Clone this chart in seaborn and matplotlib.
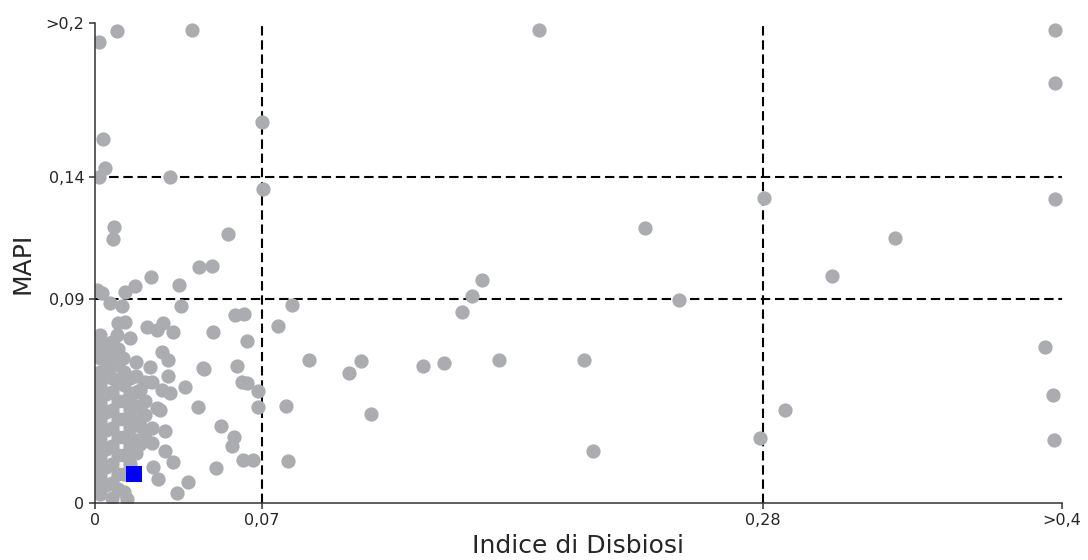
import numpy as np
import pandas as pd
import matplotlib
matplotlib.use("Agg")
import matplotlib.pyplot as plt
import seaborn as sns

# Indice di Disbiosi (x) and MAPI (y), values above the range are clipped to the edge
disbiosi = [
    0.0017, 0.0092, 0.0407, 0.186, 0.397, 0.397, 0.397, 0.0034, 0.0042, 0.0017,
    0.0314, 0.070, 0.0704, 0.008, 0.0075, 0.0557, 0.0436, 0.049, 0.0235, 0.0168,
    0.0352, 0.0126, 0.0029, 0.001, 0.0063, 0.0113, 0.036, 0.0096, 0.0126, 0.0092,
    0.0147, 0.0218, 0.026, 0.0285, 0.0327, 0.002, 0.028, 0.0306, 0.023, 0.0117,
    0.0063, 0.0453, 0.0306, 0.021, 0.0239, 0.0377, 0.028, 0.0826, 0.0587, 0.0624,
    0.0495, 0.0767, 0.0637, 0.0457, 0.0595, 0.0616, 0.0637, 0.0897, 0.0683, 0.0432,
    0.0683, 0.080, 0.0528, 0.0583, 0.0574, 0.062, 0.0662, 0.0809, 0.0507, 0.026,
    0.0293, 0.0239, 0.0327, 0.0264, 0.039, 0.0344, 0.0134, 0.0239, 0.0293, 0.0243,
    0.0272, 0.0314,
    0.2305, 0.1622, 0.158, 0.2448, 0.1538, 0.1115, 0.1065, 0.1375, 0.1463, 0.1693,
    0.205, 0.1157, 0.2087, 0.2787, 0.2888, 0.2804, 0.3077, 0.3329, 0.3932, 0.3964,
    0.3968,
    0.002, 0.002, 0.002, 0.002, 0.002, 0.002, 0.002, 0.002, 0.002, 0.002, 0.002,
    0.007, 0.007, 0.007, 0.007, 0.007, 0.007, 0.007, 0.007, 0.007, 0.007,
    0.012, 0.012, 0.012, 0.012, 0.012, 0.012, 0.012, 0.012,
    0.017, 0.017, 0.017, 0.017, 0.017, 0.017, 0.017,
    0.021, 0.021, 0.021,
    0.0045, 0.0045, 0.0045, 0.0045, 0.0045, 0.0045, 0.0045, 0.0045, 0.0045,
    0.0095, 0.0095, 0.0095, 0.0095, 0.0095, 0.0095, 0.0095, 0.0095, 0.0095,
    0.0145, 0.0145, 0.0145, 0.0145, 0.0145, 0.0145,
    0.019, 0.019, 0.019, 0.019,
    0.001, 0.001, 0.001, 0.001, 0.001, 0.001, 0.001,
]
mapi = [
    0.1926, 0.1969, 0.1973, 0.1973, 0.1973, 0.1766, 0.131, 0.1548, 0.1435, 0.140,
    0.140, 0.1614, 0.1351, 0.1195, 0.1146, 0.1166, 0.1031, 0.1035, 0.099, 0.0953,
    0.0957, 0.0929, 0.0925, 0.0937, 0.0882, 0.0869, 0.0869, 0.0794, 0.080, 0.0741,
    0.0728, 0.0776, 0.0763, 0.0794, 0.0754, 0.071, 0.0666, 0.0631, 0.060, 0.064,
    0.060, 0.0596, 0.056, 0.0534, 0.0534, 0.0512, 0.0498, 0.0873, 0.0829, 0.0834,
    0.0754, 0.0781, 0.0715, 0.0591, 0.0605, 0.0534, 0.053, 0.0631, 0.0494, 0.0423,
    0.0423, 0.0428, 0.034, 0.0291, 0.0251, 0.019, 0.019, 0.0185, 0.0154, 0.0419,
    0.0318, 0.0265, 0.0181, 0.0106, 0.0093, 0.0044, 0.0018, 0.0331, 0.0229, 0.0159,
    0.041, 0.0485,
    0.1191, 0.0976, 0.0912, 0.0895, 0.0842, 0.0626, 0.0573, 0.0604, 0.0618, 0.0631,
    0.0631, 0.0393, 0.0229, 0.0287, 0.041, 0.1314, 0.0994, 0.115, 0.0688, 0.0476,
    0.0278,
    0.004, 0.012, 0.020, 0.028, 0.036, 0.044, 0.052, 0.058, 0.064, 0.068, 0.074,
    0.002, 0.009, 0.017, 0.025, 0.033, 0.041, 0.049, 0.055, 0.066, 0.071,
    0.005, 0.013, 0.021, 0.029, 0.037, 0.045, 0.052, 0.058,
    0.022, 0.028, 0.036, 0.043, 0.049, 0.056, 0.062,
    0.031, 0.039, 0.045,
    0.008, 0.016, 0.024, 0.032, 0.040, 0.048, 0.056, 0.062, 0.070,
    0.006, 0.013, 0.021, 0.029, 0.037, 0.045, 0.053, 0.061, 0.068,
    0.017, 0.025, 0.033, 0.041, 0.048, 0.055,
    0.026, 0.034, 0.042, 0.050,
    0.008, 0.016, 0.024, 0.032, 0.040, 0.048, 0.056,
]

# highlighted sample
ref_disbiosi = [0.0163]
ref_mapi = [0.0128]

# thresholds and tick labels
x_ticks = [0, 0.07, 0.28, 0.4]
x_labels = ["0", "0,07", "0,28", ">0,4"]
y_ticks = [0, 0.09, 0.14, 0.2]
y_labels = ["0", "0,09", "0,14", ">0,2"]
x_cuts = [0.07, 0.28]
y_cuts = [0.09, 0.14]

# piecewise axis scales (the chart stretches its tick intervals unevenly)
xb = [-1, 0, 0.07, 0.28, 0.4, 1]
xp = [-2386, 0, 167, 668, 967, 967 + 0.6 * 2492]
yb = [-1, 0, 0.09, 0.14, 0.2, 1]
yp = [-2267, 0, 204, 326, 480, 480 + 0.8 * 2567]


def x_fwd(v):
    return np.interp(v, xb, xp)


def x_inv(v):
    return np.interp(v, xp, xb)


def y_fwd(v):
    return np.interp(v, yb, yp)


def y_inv(v):
    return np.interp(v, yp, yb)


df = pd.DataFrame({"disbiosi": disbiosi, "mapi": mapi})
ref = pd.DataFrame({"disbiosi": ref_disbiosi, "mapi": ref_mapi})

sns.set_style("ticks")
plt.rcParams["font.family"] = ["DejaVu Sans"]

fig, ax = plt.subplots(figsize=(10.88, 5.6), dpi=100)
fig.subplots_adjust(left=95 / 1088, right=1062 / 1088, bottom=1 - 503 / 560, top=1 - 23 / 560)

ax.set_xscale("function", functions=(x_fwd, x_inv))
ax.set_yscale("function", functions=(y_fwd, y_inv))

for xc in x_cuts:
    ax.axvline(xc, color="black", lw=1.5, linestyle=(0, (4.5, 2.3)), zorder=1)
for yc in y_cuts:
    ax.axhline(yc, color="black", lw=1.5, linestyle=(0, (4.5, 2.3)), zorder=1)

sns.scatterplot(data=df, x="disbiosi", y="mapi", ax=ax, color="#abacb0",
                s=105, linewidth=0, alpha=1, zorder=2)
sns.scatterplot(data=ref, x="disbiosi", y="mapi", ax=ax, color="#0000ff",
                marker="s", s=125, linewidth=0, zorder=3)

ax.set_xlim(0, 0.4)
ax.set_ylim(0, 0.2)
ax.set_xticks(x_ticks)
ax.set_xticklabels(x_labels)
ax.set_yticks(y_ticks)
ax.set_yticklabels(y_labels)
ax.minorticks_off()
ax.tick_params(axis="both", labelsize=11.5, length=4, width=1.1, color="#333333")

sns.despine(ax=ax)
for side in ["left", "bottom"]:
    ax.spines[side].set_color("#333333")
    ax.spines[side].set_linewidth(1.1)

ax.set_xlabel("Indice di Disbiosi", fontsize=18, labelpad=4)
ax.set_ylabel("MAPI", fontsize=18, labelpad=8)

fig.savefig("out.png", dpi=100)
